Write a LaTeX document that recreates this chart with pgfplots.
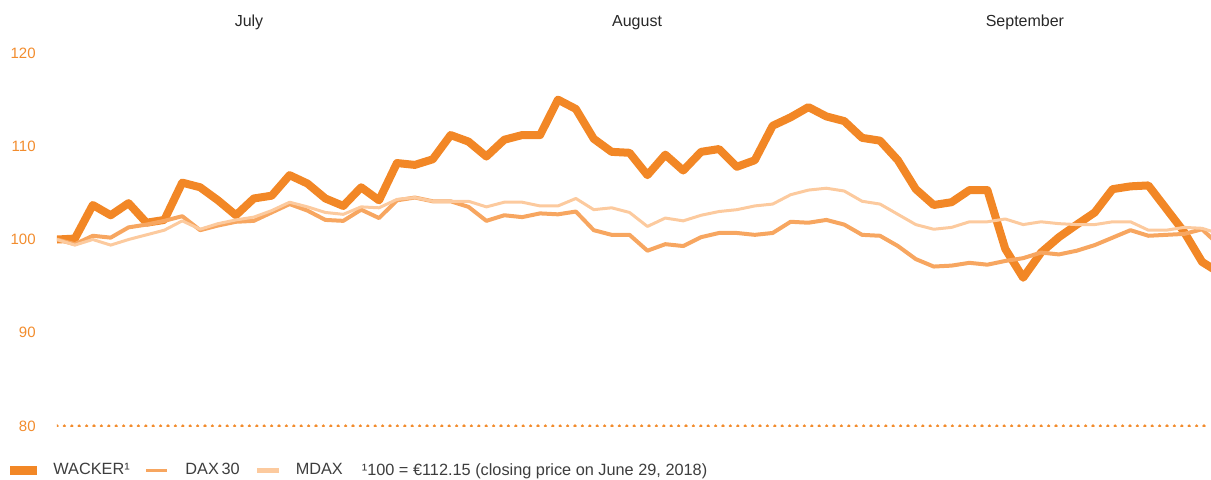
\documentclass[border=0pt]{standalone}
\usepackage{pgfplots}
\pgfplotsset{compat=1.18}
\usepackage{fontspec}
\setmainfont{Liberation Sans}
\definecolor{wacker}{RGB}{242,135,38}
\definecolor{dax}{RGB}{247,166,96}
\definecolor{mdax}{RGB}{252,202,158}
\definecolor{tickor}{RGB}{242,140,45}
\definecolor{month}{RGB}{40,40,40}
\begin{document}
\begin{tikzpicture}
\useasboundingbox (-28.5pt,-26.5pt) rectangle (577pt,213pt);
\begin{axis}[
  scale only axis,
  width=577pt, height=186.5pt,
  xmin=0, xmax=64.5, ymin=80, ymax=120,
  clip mode=individual,
  axis line style={draw=none},
  major tick length=0pt,
  xtick=\empty,
  ytick={80,90,100,110,120},
  /pgf/number format/assume math mode=true,
  yticklabel style={font=\fontsize{7.5}{9}\selectfont, text=tickor, inner sep=0pt, anchor=east, xshift=-10.5pt},
  legend columns=4,
  legend cell align=left,
  legend style={draw=none, fill=none, font=\fontsize{8.15}{10}\selectfont, text=month!90,
    at={(axis description cs:-0.0407,-0.120)}, anchor=west, inner sep=0pt,
    /tikz/every even column/.append style={column sep=5.5pt}},
]
\addplot[wacker, line width=4pt, line join=round,
  legend image code/.code={\path[fill=wacker, draw=none] (0pt,-2.25pt) rectangle (13.5pt,2.25pt); \path (17.5pt,0pt);}]
coordinates {
(0,100.0)(1,100.1)(2,103.7)(3,102.6)(4,103.9)(5,101.8)(6,102.1)(7,106.1)(8,105.6)(9,104.2)
(10,102.6)(11,104.4)(12,104.7)(13,106.9)(14,106.0)(15,104.4)(16,103.6)(17,105.6)(18,104.2)(19,108.2)
(20,108.0)(21,108.6)(22,111.2)(23,110.5)(24,108.9)(25,110.7)(26,111.2)(27,111.2)(28,115.0)(29,114.0)
(30,110.8)(31,109.4)(32,109.3)(33,106.9)(34,109.1)(35,107.4)(36,109.4)(37,109.7)(38,107.8)(39,108.5)
(40,112.2)(41,113.1)(42,114.2)(43,113.2)(44,112.7)(45,110.9)(46,110.6)(47,108.5)(48,105.4)(49,103.7)
(50,104.0)(51,105.3)(52,105.3)(53,99.0)(54,95.9)(55,98.6)(56,100.25)(57,101.6)(58,102.9)(59,105.4)
(60,105.7)(61,105.8)(62,103.3)(63,100.8)(64,97.6)(65,96.4)
};
\addlegendentry{WACKER¹}
\addplot[dax, line width=2pt, line join=round,
  legend image code/.code={\draw[dax, line width=1.6pt] (0pt,0pt) -- (10.5pt,0pt); \path (16.5pt,0pt);}]
coordinates {
(0,100.0)(1,99.5)(2,100.4)(3,100.2)(4,101.3)(5,101.6)(6,102.0)(7,102.5)(8,101.0)(9,101.5)
(10,101.9)(11,102.0)(12,102.9)(13,103.8)(14,103.1)(15,102.1)(16,102.0)(17,103.2)(18,102.3)(19,104.2)
(20,104.5)(21,104.1)(22,104.1)(23,103.5)(24,102.0)(25,102.6)(26,102.4)(27,102.8)(28,102.7)(29,103.0)
(30,101.0)(31,100.5)(32,100.5)(33,98.8)(34,99.5)(35,99.3)(36,100.25)(37,100.7)(38,100.7)(39,100.5)
(40,100.7)(41,101.9)(42,101.8)(43,102.1)(44,101.6)(45,100.5)(46,100.4)(47,99.3)(48,97.9)(49,97.1)
(50,97.2)(51,97.5)(52,97.3)(53,97.7)(54,98.0)(55,98.6)(56,98.4)(57,98.8)(58,99.4)(59,100.2)
(60,101.0)(61,100.4)(62,100.5)(63,100.6)(64,101.1)(65,99.3)
};
\addlegendentry{DAX\,30}
\addplot[mdax, line width=1.5pt, line join=round,
  legend image code/.code={\draw[mdax, line width=2.5pt] (0pt,0pt) -- (11pt,0pt); \path (16.5pt,0pt);}]
coordinates {
(0,100.0)(1,99.4)(2,100.0)(3,99.4)(4,100.0)(5,100.5)(6,101.0)(7,102.0)(8,101.1)(9,101.7)
(10,102.1)(11,102.4)(12,103.1)(13,104.0)(14,103.5)(15,102.9)(16,102.7)(17,103.5)(18,103.4)(19,104.3)
(20,104.5)(21,104.1)(22,104.1)(23,104.1)(24,103.5)(25,104.0)(26,104.0)(27,103.6)(28,103.6)(29,104.4)
(30,103.2)(31,103.4)(32,102.9)(33,101.4)(34,102.3)(35,102.0)(36,102.6)(37,103.0)(38,103.2)(39,103.6)
(40,103.8)(41,104.8)(42,105.3)(43,105.5)(44,105.2)(45,104.1)(46,103.8)(47,102.7)(48,101.6)(49,101.1)
(50,101.3)(51,101.9)(52,101.9)(53,102.2)(54,101.6)(55,101.9)(56,101.7)(57,101.6)(58,101.6)(59,101.9)
(60,101.9)(61,101.0)(62,101.0)(63,101.3)(64,101.2)(65,100.6)
};
\addlegendentry{MDAX}
\addlegendimage{empty legend}
\addlegendentry{¹100 = €112.15 (closing price on June 29, 2018)}
\addplot[tickor, line width=1.8pt, line cap=round, dash pattern=on 0pt off 3.7pt, forget plot]
coordinates {(0,80) (64.5,80)};
\node[font=\fontsize{8}{10}\selectfont, text=month] at (axis cs:10.73,123.27) {July};
\node[font=\fontsize{8}{10}\selectfont, text=month] at (axis cs:32.42,123.27) {August};
\node[font=\fontsize{8}{10}\selectfont, text=month] at (axis cs:54.1,123.27) {September};
\end{axis}
\end{tikzpicture}
\end{document}
